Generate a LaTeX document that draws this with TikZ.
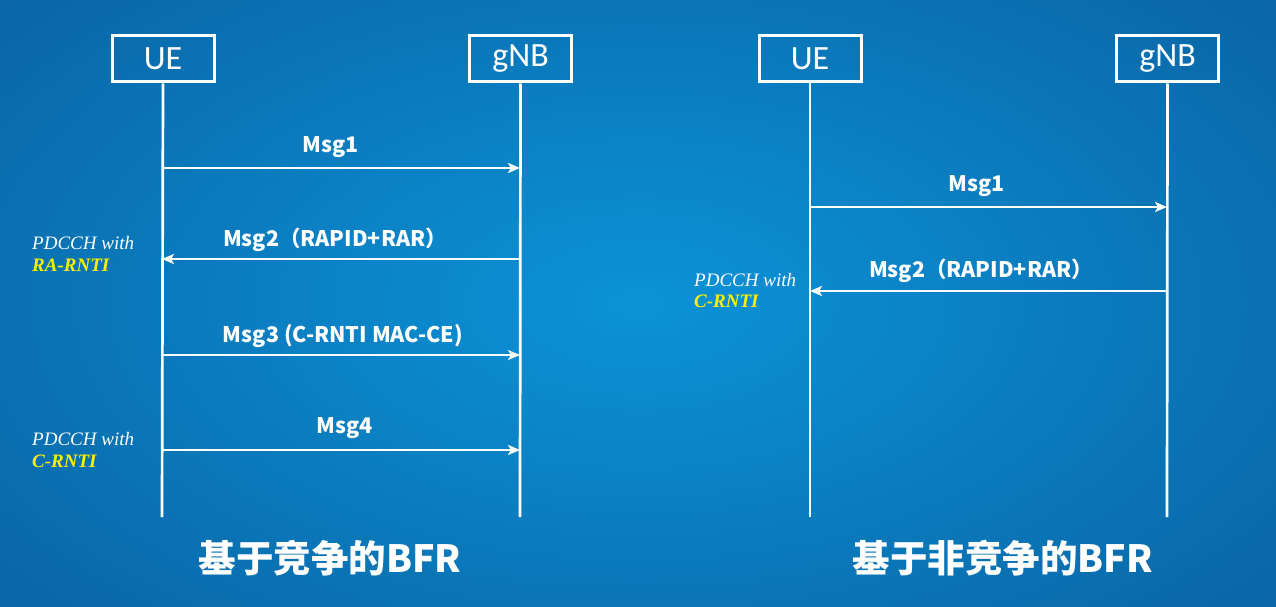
\documentclass[tikz,border=0pt]{standalone}
\usepackage{fontspec}
\newfontfamily\cjk{Noto Sans CJK SC}
\newfontfamily\tnr{Liberation Serif}
\newfontfamily\uefont{Carlito}
\usetikzlibrary{arrows.meta}
\definecolor{bgin}{HTML}{0B93D8}
\definecolor{bgout}{HTML}{0A66A6}
\definecolor{ylw}{HTML}{FFF200}
\tikzset{
  actor/.style={draw=white, line width=3pt, minimum width=102pt, minimum height=46pt, inner sep=0pt, text=white, font=\uefont\fontsize{34}{36}\selectfont},
  life/.style={draw=white, line width=2.7pt},
  msg/.style={draw=white, line width=2.7pt, -{Stealth[length=12pt,width=10pt,inset=3pt]}},
  msglbl/.style={text=white, font=\cjk\bfseries\fontsize{21.5}{24}\selectfont, inner sep=0pt},
  pd/.style={text=white, font=\tnr\itshape\fontsize{19}{22}\selectfont, inner sep=0pt, anchor=west},
  pdy/.style={text=ylw, font=\tnr\bfseries\itshape\fontsize{19}{22}\selectfont, inner sep=0pt, anchor=west},
  ttl/.style={text=white, font=\cjk\bfseries\fontsize{37.5}{40}\selectfont, inner sep=0pt}
}
\begin{document}
\begin{tikzpicture}[x=1pt,y=1pt]
\useasboundingbox (0,0) rectangle (1276,-607);
\shade[inner color=bgin, outer color=bgout] (-200,150) rectangle (1476,-757);
% left diagram
\node[actor] (ue1) at (163,-59) {UE};
\node[actor] (gnb1) at (520.5,-59) {gNB};
\coordinate (ue1e) at (162,-517);
\coordinate (gnb1e) at (520,-517);
\draw[life] (ue1.south) -- (ue1e);
\draw[life] (gnb1.south) -- (gnb1e);
\coordinate (l1a) at (162,-168); \coordinate (l1b) at (520,-168);
\coordinate (l2a) at (162,-259); \coordinate (l2b) at (520,-259);
\coordinate (l3a) at (162,-355); \coordinate (l3b) at (520,-355);
\coordinate (l4a) at (162,-450); \coordinate (l4b) at (520,-450);
\draw[msg] (l1a) -- (l1b);
\draw[msg] (l2b) -- (l2a);
\draw[msg] (l3a) -- (l3b);
\draw[msg] (l4a) -- (l4b);
\node[msglbl] (m1) at (331,-147) {Msg1};
\node[msglbl] (m2) at (335,-240) {Msg2（RAPID+RAR）};
\node[msglbl] (m3) at (343,-336) {Msg3 (C-RNTI MAC-CE)};
\node[msglbl] (m4) at (345,-428) {Msg4};
\node[pd] (p1) at (32,-243) {PDCCH with};
\node[pdy] (p1b) at (32,-265) {RA-RNTI};
\node[pd] (p2) at (32,-439) {PDCCH with};
\node[pdy] (p2b) at (32,-461) {C-RNTI};
\node[ttl] (t1) at (330,-558) {基于竞争的BFR};
% right diagram
\node[actor] (ue2) at (810,-59) {UE};
\node[actor] (gnb2) at (1167.5,-59) {gNB};
\coordinate (ue2e) at (810,-517);
\coordinate (gnb2e) at (1167,-517);
\draw[life] (ue2.south) -- (ue2e);
\draw[life] (gnb2.south) -- (gnb2e);
\coordinate (r1a) at (810,-207); \coordinate (r1b) at (1167,-207);
\coordinate (r2a) at (810,-291); \coordinate (r2b) at (1167,-291);
\draw[msg] (r1a) -- (r1b);
\draw[msg] (r2b) -- (r2a);
\node[msglbl] (n1) at (977,-186) {Msg1};
\node[msglbl] (n2) at (981,-271) {Msg2（RAPID+RAR）};
\node[pd] (q1) at (694,-280) {PDCCH with};
\node[pdy] (q1b) at (694,-301) {C-RNTI};
\node[ttl] (t2) at (1003,-558) {基于非竞争的BFR};
\end{tikzpicture}
\end{document}
